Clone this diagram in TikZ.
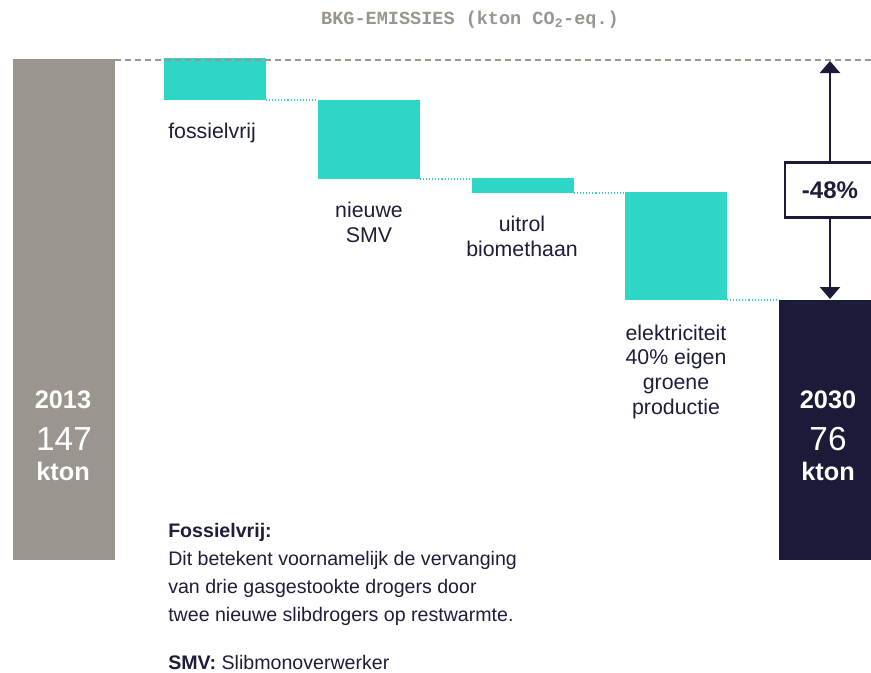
\documentclass[tikz,border=0pt]{standalone}
\usepackage{fontspec}
\setmainfont{Liberation Sans}
\setmonofont{Liberation Mono}
\usetikzlibrary{arrows.meta, positioning}

\definecolor{bkgteal}{RGB}{46,214,197}
\definecolor{bkggray}{RGB}{154,149,142}
\definecolor{bkgnavy}{RGB}{27,26,56}
\definecolor{bkgtext}{RGB}{30,29,58}

\tikzset{
  bar/.style={rectangle, inner sep=0pt, outer sep=0pt, anchor=north west, minimum width=76.5pt},
  lbl/.style={text=bkgtext, font=\fontsize{16}{18.5}\selectfont, inner sep=0pt, align=center, anchor=base},
  note/.style={text=bkgtext, font=\fontsize{14.7}{20.8}\selectfont, inner sep=0pt, align=left, anchor=base west},
  yeartxt/.style={text=white, font=\fontsize{19}{22}\selectfont\bfseries, inner sep=0pt, anchor=base},
  numtxt/.style={text=white, font=\fontsize{25}{28}\selectfont, inner sep=0pt, anchor=base},
  dashline/.style={bkggray, line width=1.5pt, dash pattern=on 4.5pt off 3pt},
  dotline/.style={bkgteal, line width=0.9pt, dash pattern=on 0.8pt off 1.5pt},
  arr/.style={bkgnavy, line width=2pt, -{Triangle[length=9pt, width=15pt]}}
}

\begin{document}
\begin{tikzpicture}[x=0.75pt, y=-0.75pt]
\useasboundingbox (0,0) rectangle (871,672);

% title
\node[text=bkggray, font=\fontsize{13.9}{16}\selectfont\ttfamily\bfseries, inner sep=0pt] (title) at (470,20) {BKG-EMISSIES (kton CO\textsubscript{2}-eq.)};

% bars
\node[bar, fill=bkggray, minimum height=375.75pt] (y2013) at (13,59) {};
\node[bar, fill=bkgteal, minimum height=31.5pt] (b1) at (164,58) {};
\node[bar, fill=bkgteal, minimum height=59.25pt] (b2) at (318,100) {};
\node[bar, fill=bkgteal, minimum height=11.25pt] (b3) at (472,178) {};
\node[bar, fill=bkgteal, minimum height=81pt] (b4) at (625,192) {};
\node[bar, fill=bkgnavy, minimum width=71.25pt, minimum height=195pt] (y2030) at (779,300) {};

% baseline 2013 and step lines
\coordinate (dashend) at (871,60);
\draw[dashline] (y2013.north east |- dashend) -- (dashend);
\draw[dotline] (b1.south east) -- (b2.north west);
\draw[dotline] (b2.south east) -- (b2.south east -| b3.west);
\draw[dotline] (b3.south east) -- (b3.south east -| b4.west);
\draw[dotline] (b4.south east) -- (y2030.north west);

% reduction arrow
\coordinate (arrtop) at (830,61);
\coordinate (arrbot) at (830,299);
\node[draw=bkgnavy, line width=2pt, fill=white, minimum width=67.5pt, minimum height=41.25pt, inner sep=0pt,
      text=bkgtext, font=\fontsize{18}{20}\selectfont\bfseries] (pct) at (830,190) {-48\%};
\draw[arr] (pct) -- (arrtop);
\draw[arr] (pct) -- (arrbot);

% step labels (base = last line)
\node[lbl, anchor=base west] (l1) at (168,138) {fossielvrij};
\node[lbl] (l2) at (369,242) {nieuwe\\SMV};
\node[lbl] (l3) at (522,256) {uitrol\\biomethaan};
\node[lbl] (l4) at (676,414) {elektriciteit\\40\% eigen\\groene\\productie};

% totals
\node[yeartxt] (t2013) at (63,408) {2013};
\node[numtxt] (v2013) at (64,450) {147};
\node[yeartxt] (u2013) at (63,480) {kton};
\node[yeartxt] (t2030) at (828,408) {2030};
\node[numtxt] (v2030) at (828,450) {76};
\node[yeartxt] (u2030) at (828,480) {kton};

% notes
\node[note] (note) at (168,621) {\textbf{Fossielvrij:}\\Dit betekent voornamelijk de vervanging\\van drie gasgestookte drogers door\\twee nieuwe slibdrogers op restwarmte.};
\node[note] (smv) at (168,669) {\textbf{SMV:} Slibmonoverwerker};
\end{tikzpicture}
\end{document}
